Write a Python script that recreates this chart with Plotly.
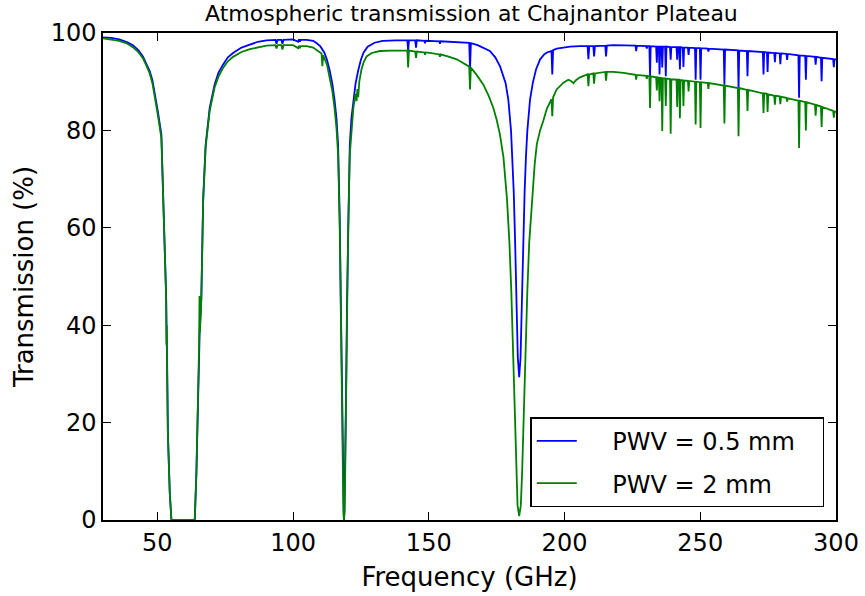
import plotly.graph_objects as go

# ---- data (frequency in GHz, transmission in %) ----
freq_blue = [30, 33, 36, 39, 41, 43, 44.7, 46, 47.2, 48.2, 49, 50.2, 51.5, 52.3, 52.8, 53.3, 53.9, 54.6, 55.2,
             63.8, 64.4, 65, 65.6, 66.2, 66.9, 67.8, 69.3, 71.1, 72.5, 74.2, 76, 77.9, 81, 84.1, 87, 90.2,
             93.5, 93.9, 94.3, 95.7, 96.1, 96.5, 100, 101.9, 102.2, 102.5, 102.8, 105, 107.4, 108.5, 110,
             111.5, 112.5, 113.5, 114.5, 115.3, 116.0, 116.6, 117.2, 117.6, 118.0, 118.3, 118.55, 118.75,
             118.95, 119.2, 119.5, 119.9, 120.3, 120.9, 121.5, 122.2, 123.0, 124.0, 125.0, 126.0, 127.5,
             130, 133, 138, 142.1, 142.4, 142.7, 145.0, 145.3, 145.6, 148.4, 148.6, 148.8, 153.9, 154.1,
             154.3, 158, 162, 164.9, 165.2, 165.5, 168, 170, 172.5, 174.5, 176.3, 178.3, 179.3, 180.3,
             180.8, 181.3, 181.8, 182.3, 182.8, 183.3, 183.8, 184.3, 184.8, 185.3, 185.8, 186.3, 187.3,
             188.3, 189.5, 191, 192.5, 193.5, 195.2, 195.5, 195.8, 197.1, 199.6, 202, 205.7, 208.5,
             208.8, 209.1, 210.6, 210.9, 211.2, 215.0, 215.3, 215.6, 218, 221.7]
trans_blue = [99.1, 99.0, 98.7, 98.1, 97.5, 96.5, 95.2, 93.8, 92.2, 90.3, 88.0, 83.9, 79.2, 66, 56, 45, 18, 5.6, 0,
              0, 9.7, 24.7, 38.4, 45.3, 66, 77, 84.6, 89.4, 91.8, 93.5, 95, 95.9, 97, 97.6, 98.2, 98.5,
              98.6, 97.8, 98.6, 98.6, 97.8, 98.6, 98.7, 98.2, 98.7, 98.2, 98.6, 98.6, 98.4, 98.0, 97.3,
              96.0, 94.5, 92.3, 89.5, 86.2, 82.5, 77, 62, 45, 25, 10, 2, 0,
              2, 10, 25, 45, 62, 77, 82.5, 86.2, 89.5, 92.3, 94.5, 96.0, 97.2,
              98.0, 98.4, 98.5, 98.5, 96.3, 98.5, 98.5, 97.0, 98.5, 98.4, 97.9, 98.4, 98.3, 97.8,
              98.3, 98.2, 98.1, 98.0, 92.5, 97.9, 97.5, 97.0, 96.3, 95.0, 93.1, 89.7, 86.3, 79.9,
              74.7, 67.3, 57.2, 44.8, 33.3, 29.3, 33.3, 44.8, 57.2, 67.3, 74.7, 79.9, 86.3,
              89.7, 92.5, 94.6, 95.6, 96.0, 96.3, 91.5, 96.5, 96.8, 97.0, 97.2, 97.3, 97.3,
              94.6, 97.3, 97.3, 95.2, 97.3, 97.4, 95.2, 97.4, 97.5, 97.5]

freq_green = [30, 33, 36, 39, 41, 43, 44.7, 46, 47.2, 48.2, 49, 50.2, 51.5, 52.3, 52.8, 53.2, 53.35, 53.5, 53.9,
              54.6, 55.2, 63.8, 64.4, 65, 65.4, 65.55, 65.7, 66.2, 66.9, 67.8, 69.3, 71.1, 72.5, 74.2, 76,
              77.9, 81, 84.1, 87, 90.2, 93.5, 93.9, 94.3, 95.7, 96.1, 96.5, 100, 101.9, 102.2, 102.5, 102.8,
              105, 107.4, 108.5, 110.5, 110.8, 111.1, 112.5, 113.5, 114.5, 115.3, 116.0, 116.6, 117.2, 117.6,
              118.0, 118.3, 118.55, 118.75, 118.95, 119.2, 119.5, 119.9, 120.3, 120.9, 121.5, 122.2, 123.0,
              123.4, 123.7, 124.0, 124.4, 125.2, 126.0, 127.1, 129, 132, 136, 140.6, 142.1, 142.4, 142.7,
              145.0, 145.3, 145.6, 148.4, 148.6, 148.8, 150.4, 153.9, 154.1, 154.3, 157, 160.3, 164.9,
              165.2, 165.5, 167.5, 170.1, 172, 173.8, 175, 176.2, 177.5, 178.8, 179.7, 180.4, 181.0, 181.6,
              182.2, 182.7, 183.3, 183.9, 184.4, 185.0, 185.6, 186.3, 187.0, 188.0, 189.0, 189.8, 191,
              192.2, 193.5, 195.2, 195.5, 195.8, 197.1, 199.6, 201.4, 202.5, 203.3, 204.2, 205.7, 208.5,
              208.8, 209.1, 210.6, 210.9, 211.2, 215.0, 215.3, 215.6, 218, 221.7]
trans_green = [98.9, 98.7, 98.4, 97.8, 97.1, 96.1, 94.8, 93.3, 91.7, 89.7, 87.4, 83.2, 78.4, 65.5, 55.5, 47, 36, 40, 17.5,
               5.4, 0, 0, 9.5, 24.5, 36, 46, 38.5, 45, 65.5, 76.5, 84, 88.8, 91, 92.8, 94.2,
               95.1, 96.1, 96.7, 97.1, 97.4, 97.5, 96.8, 97.5, 97.5, 96.6, 97.5, 97.5, 96.9, 97.4, 96.9, 97.3,
               97.3, 97.0, 96.6, 95.8, 93.2, 95.4, 93.5, 91.0, 88.0, 84.5, 80.5, 75, 60, 43,
               23, 9, 1.5, 0, 1.5, 9, 23, 43, 60, 75, 80.5, 84.5, 87.5,
               86.0, 88.5, 86.8, 90.0, 92.5, 94.0, 95.2, 95.9, 96.3, 96.4, 96.4, 96.4, 92.9, 96.4,
               96.2, 94.9, 96.2, 96.0, 95.5, 96.0, 95.9, 95.6, 95.1, 95.6, 95.2, 94.6, 93.1,
               88.4, 92.9, 91.5, 89.4, 87.2, 84.6, 82.2, 79.2, 74.5, 66, 57, 47, 36, 22,
               10, 3, 0.8, 3, 10, 22, 36, 47, 57, 66, 73, 77.2, 80,
               82, 84.5, 86.4, 82.9, 86.8, 88.4, 89.8, 90.4, 90.1, 89.7, 90.3, 90.9, 91.5,
               89.1, 91.5, 91.7, 89.6, 91.7, 92.0, 90.2, 92.0, 92.0, 91.8]

# dense line region 224-300 GHz, shared frequency grid
freq_hi = [224.0,
           226.15, 226.4, 226.65, 230.05, 230.3, 230.55, 231.25, 231.5, 231.75, 233.75, 234.0, 234.25,
           234.75, 235.0, 235.25, 235.75, 236.0, 236.25, 237.05, 237.3, 237.55, 238.85, 239.1, 239.35,
           241.25, 241.5, 241.75, 242.25, 242.5, 242.75, 243.55, 243.8, 244.05, 245.45, 245.7, 245.95,
           248.05, 248.3, 248.55, 249.85, 250.1, 250.35, 252.75, 253.0, 253.25, 258.65, 258.9, 259.15,
           263.85, 264.1, 264.35, 267.15, 267.4, 267.65, 273.05, 273.3, 273.55, 274.55, 274.8, 275.05,
           277.25, 277.5, 277.75, 279.25, 279.5, 279.75, 281.75, 282.0, 282.25, 286.15, 286.4, 286.65,
           288.65, 288.9, 289.15, 292.25, 292.5, 292.75, 294.45, 294.7, 294.95, 298.95, 299.2, 299.45,
           300]
trans_blue_hi = [97.5,
                 97.4, 96.3, 97.4, 97.3, 96.8, 97.3, 97.3, 91.1, 97.3, 97.2, 93.9, 97.2,
                 97.2, 91.5, 97.2, 97.2, 92.9, 97.2, 97.2, 91.1, 97.2, 97.1, 94.5, 97.1,
                 97.1, 94.5, 97.1, 97.1, 92.5, 97.1, 97.0, 93.0, 97.0, 97.0, 95.5, 97.0,
                 96.9, 90.4, 96.9, 96.9, 90.4, 96.9, 96.8, 96.2, 96.8, 96.6, 89.4, 96.6,
                 96.45, 88.4, 96.4, 96.3, 91.1, 96.3, 96.1, 91.5, 96.1, 96.0, 92.0, 96.0,
                 95.9, 94.0, 95.9, 95.8, 93.6, 95.8, 95.7, 94.5, 95.7, 95.4, 86.7, 95.4,
                 95.3, 90.4, 95.3, 95.1, 93.5, 95.1, 94.9, 90.1, 94.9, 94.65, 93.0, 94.6,
                 94.6]
trans_green_hi = [91.6,
                  91.4, 90.4, 91.4, 91.2, 90.6, 91.2, 91.1, 84.6, 91.1, 90.9, 88.2, 90.9,
                  90.8, 86.0, 90.8, 90.75, 79.9, 90.7, 90.7, 85.0, 90.65, 90.55, 79.3, 90.5,
                  90.45, 84.8, 90.4, 90.4, 82.5, 90.35, 90.3, 85.0, 90.25, 90.2, 88.0, 90.15,
                  90.0, 81.2, 90.0, 89.9, 80.5, 89.9, 89.7, 88.5, 89.7, 89.2, 81.4, 89.2,
                  88.7, 78.8, 88.7, 88.3, 84.0, 88.3, 87.6, 83.6, 87.6, 87.5, 83.8, 87.4,
                  87.1, 85.3, 87.1, 87.0, 85.4, 86.9, 86.7, 85.9, 86.6, 86.1, 76.4, 86.1,
                  85.8, 80.0, 85.8, 85.3, 83.0, 85.2, 84.9, 80.7, 84.8, 84.0, 82.6, 83.9,
                  83.8]

series_names = ["PWV = 0.5 mm", "PWV = 2 mm"]
x_ticks = [50, 100, 150, 200, 250, 300]
y_ticks = [0, 20, 40, 60, 80, 100]

NB = "\u00a0"
FONT = "DejaVu Sans"

fig = go.Figure()
fig.add_trace(go.Scatter(x=freq_blue + freq_hi, y=trans_blue + trans_blue_hi, mode="lines",
                         name=NB * 4 + series_names[0] + NB * 3, legendgroup="a",
                         line=dict(color="#0000ff", width=1.8)))
fig.add_trace(go.Scatter(x=freq_green + freq_hi, y=trans_green + trans_green_hi, mode="lines",
                         name=NB * 4 + series_names[1], legendgroup="b",
                         line=dict(color="#008000", width=1.8)))

axis_common = dict(showline=True, linecolor="black", linewidth=1.5, mirror="ticks",
                   ticks="inside", ticklen=8, tickwidth=1.2, tickcolor="black",
                   showgrid=False, zeroline=False, automargin=False,
                   tickfont=dict(family=FONT, size=24, color="black"))

fig.update_layout(
    width=865, height=596,
    margin=dict(l=103, r=29, t=33, b=76),
    paper_bgcolor="white", plot_bgcolor="white",
    title=dict(text="Atmospheric transmission at Chajnantor Plateau",
               font=dict(family=FONT, size=22, color="black"),
               x=0.545, xanchor="center", y=0.977, yanchor="middle"),
    xaxis=dict(range=[30, 300], tickvals=x_ticks,
               title=dict(text="Frequency (GHz)", font=dict(family=FONT, size=26, color="black"), standoff=12),
               **axis_common),
    yaxis=dict(range=[0, 100], tickvals=y_ticks,
               title=dict(text="Transmission (%)", font=dict(family=FONT, size=26, color="black"), standoff=10),
               **axis_common),
    legend=dict(x=0.984, y=0.026, xanchor="right", yanchor="bottom",
                bordercolor="black", borderwidth=1.5, bgcolor="white",
                font=dict(family=FONT, size=24, color="black"),
                tracegroupgap=8, itemwidth=40),
    showlegend=True,
)

fig.write_html("out.html")
